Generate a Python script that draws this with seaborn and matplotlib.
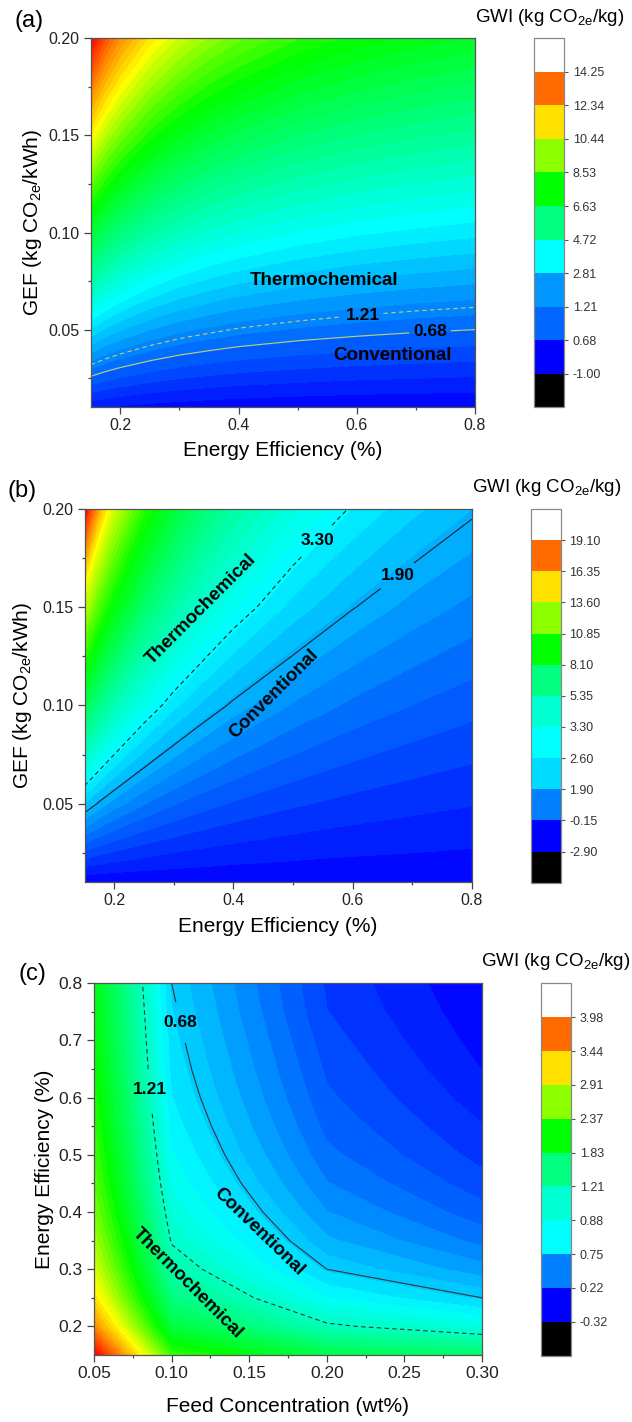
import numpy as np
import matplotlib
matplotlib.use('Agg')
import matplotlib.pyplot as plt
import seaborn as sns
from matplotlib.colors import LinearSegmentedColormap, ListedColormap, BoundaryNorm, Normalize
from matplotlib.cm import ScalarMappable
from matplotlib.ticker import FormatStrFormatter

#==============================================================================
# values (GWI in kg CO2e/kg)
#------------------------------------------------------------------------------
# (a) energy efficiency x GEF
eff_a = [0.15, 0.175, 0.20, 0.25, 0.30, 0.35, 0.40, 0.50, 0.60, 0.70, 0.80]
gef_a = [0.01, 0.05, 0.10, 0.15, 0.20]
gwi_a = [[-0.74, -0.82, -0.87, -0.95, -1.00, -1.04, -1.07, -1.11, -1.14, -1.15, -1.17],
         [ 2.82,  2.44,  2.16,  1.77,  1.50,  1.32,  1.17,  0.98,  0.85,  0.75,  0.68],
         [ 7.26,  6.51,  5.95,  5.16,  4.64,  4.26,  3.98,  3.59,  3.32,  3.14,  2.99],
         [11.71, 10.58,  9.74,  8.56,  7.77,  7.21,  6.78,  6.19,  5.80,  5.52,  5.31],
         [16.15, 14.65, 13.53, 11.95, 10.90, 10.15,  9.59,  8.80,  8.27,  7.90,  7.62]]
levels_a = [-1.00, 0.68, 1.21, 2.81, 4.72, 6.63, 8.53, 10.44, 12.34, 14.25]
lines_a = [0.68, 1.21]   # conventional, thermochemical

# (b) energy efficiency x GEF
eff_b = [0.15, 0.175, 0.20, 0.25, 0.30, 0.35, 0.40, 0.50, 0.60, 0.70, 0.80]
gef_b = [0.01, 0.05, 0.10, 0.15, 0.20]
gwi_b = [[-1.73, -1.72, -1.71, -1.69, -1.68, -1.67, -1.67, -1.66, -1.66, -1.65, -1.65],
         [ 2.37,  1.80,  1.37,  0.77,  0.37,  0.08, -0.13, -0.43, -0.63, -0.77, -0.88],
         [ 7.50,  6.19,  5.22,  3.85,  2.93,  2.28,  1.79,  1.11,  0.65,  0.33,  0.08],
         [12.62, 10.59,  9.06,  6.92,  5.50,  4.48,  3.72,  2.65,  1.93,  1.42,  1.04],
         [17.75, 14.98, 12.91, 10.00,  8.06,  6.68,  5.64,  4.18,  3.22,  2.52,  2.00]]
levels_b = [-2.90, -0.15, 1.90, 2.60, 3.30, 5.35, 8.10, 10.85, 13.60, 16.35, 19.10]
lines_b = [1.90, 3.30]

# (c) feed concentration x energy efficiency
conc_c = [0.05, 0.10, 0.20, 0.30]
eff_c = [0.15, 0.20, 0.25, 0.30, 0.35, 0.40, 0.45, 0.50, 0.55, 0.60, 0.65, 0.70, 0.75, 0.80]
gwi_c = [[4.50, 2.40, 1.82, 1.65],
         [3.77, 1.87, 1.25, 1.04],
         [3.32, 1.55, 0.91, 0.68],
         [3.03, 1.34, 0.68, 0.44],
         [2.82, 1.19, 0.52, 0.26],
         [2.66, 1.08, 0.40, 0.13],
         [2.53, 0.99, 0.30, 0.03],
         [2.44, 0.92, 0.22, -0.05],
         [2.36, 0.86, 0.16, -0.11],
         [2.29, 0.81, 0.11, -0.17],
         [2.23, 0.77, 0.07, -0.22],
         [2.18, 0.74, 0.03, -0.26],
         [2.14, 0.71, -0.01, -0.29],
         [2.10, 0.68, -0.03, -0.32]]
levels_c = [-0.32, 0.22, 0.75, 0.88, 1.21, 1.83, 2.37, 2.91, 3.44, 3.98]
lines_c = [0.68, 1.21]

#==============================================================================
# colours
BLUE, AZURE, SKY, CYAN = '#0000FF', '#0080FF', '#00DCFF', '#00FFFF'
AQUA, SPRING, GREEN, CHART = '#00FFD2', '#00FF80', '#00FF00', '#8CFF00'
GOLD, ORANGE = '#FFE100', '#FF6A00'
bands_a = [BLUE, '#0066FF', '#0096FF', CYAN, SPRING, GREEN, CHART, GOLD, ORANGE]
bands_b = [BLUE, AZURE, SKY, CYAN, AQUA, SPRING, GREEN, CHART, GOLD, ORANGE]
bands_c = [BLUE, AZURE, CYAN, AQUA, SPRING, GREEN, CHART, GOLD, ORANGE]

rainbow = ['#0000FF', '#00FFFF', '#00FF00', '#FFFF00', '#FF0000']
nodes_a = [-1.17, 3.4, 8.3, 11.6, 16.2]
nodes_b = [-1.73, 3.47, 9.42, 13.83, 17.8]
nodes_c = [-0.32, 0.90, 2.20, 3.20, 4.50]

#==============================================================================
sns.set_theme(style='ticks')
plt.rcParams['font.family'] = ['Liberation Sans', 'DejaVu Sans']
plt.rcParams['mathtext.fontset'] = 'custom'
plt.rcParams['mathtext.rm'] = 'Liberation Sans'
plt.rcParams['mathtext.it'] = 'Liberation Sans:italic'
plt.rcParams['axes.linewidth'] = 0.9
plt.rcParams['text.color'] = 'black'
plt.rcParams['axes.labelcolor'] = 'black'

W, H = 632, 1422
fig = plt.figure(figsize=(W / 100, H / 100), dpi=100)
fig.patch.set_facecolor('white')

def px_axes(x0, y0, x1, y1):
    return fig.add_axes([x0 / W, 1 - y1 / H, (x1 - x0) / W, (y1 - y0) / H])

GWI_LABEL = r'GWI (kg CO$_{\mathregular{2e}}$/kg)'
TICK_C = '#222222'
NOTE = dict(ha='center', va='center', fontsize=13.5, fontweight='bold',
            color='black', rotation_mode='anchor')

#++++++++++++++++++++++++++++++++++++++++++++++++++++++++++++++++++++++++++++++
def f_panel(ax, x, y, z, nodes, lines, line_color, label_pos, tick_size):
    X, Y = np.meshgrid(x, y)
    Z = np.array(z)
    vmin, vmax = nodes[0], nodes[-1]
    pos = [(n - vmin) / (vmax - vmin) for n in nodes]
    cmap = LinearSegmentedColormap.from_list('rb', list(zip(pos, rainbow)))
    fill_levels = np.linspace(Z.min(), Z.max(), 48)
    cf = ax.contourf(X, Y, Z, levels=fill_levels, cmap=cmap,
                     norm=Normalize(vmin, vmax), extend='both')
    cf.set_edgecolor('face')
    cf.set_linewidth(0.4)
    cs = ax.contour(X, Y, Z, levels=lines, colors=[line_color],
                    linewidths=0.8, linestyles=['solid', (0, (4, 3))])
    cl = ax.clabel(cs, lines, inline=True, fmt='%.2f', fontsize=12.5,
                   colors='black', manual=label_pos, inline_spacing=4)
    for t in cl:
        t.set_rotation(0)
        t.set_fontweight('bold')
    ax.set_xlim(x[0], x[-1])
    ax.set_ylim(y[0], y[-1])
    for s in ax.spines.values():
        s.set_color('#555555')
        s.set_linewidth(0.9)
    ax.tick_params(which='both', direction='out', top=False, right=False,
                   color='#444444', width=0.9, labelsize=tick_size,
                   labelcolor=TICK_C, pad=3)
    ax.tick_params(which='major', length=5)
    ax.tick_params(which='minor', length=2.5)
#++++++++++++++++++++++++++++++++++++++++++++++++++++++++++++++++++++++++++++++

def f_cbar(cax, levels, bands):
    cmap = ListedColormap(bands)
    cmap.set_under('black')
    cmap.set_over('white')
    norm = BoundaryNorm(levels, cmap.N)
    cb = fig.colorbar(ScalarMappable(norm=norm, cmap=cmap), cax=cax,
                      extend='both', extendrect=True, extendfrac=1 / len(bands),
                      spacing='uniform', ticks=levels, drawedges=False)
    cb.ax.set_yticklabels(['%.2f' % v for v in levels])
    cb.outline.set_edgecolor('#888888')
    cb.outline.set_linewidth(0.9)
    cb.ax.tick_params(length=3, width=0.8, color='#555555', labelsize=9,
                      labelcolor='#333333', pad=3)
    cb.ax.minorticks_off()
    return cb

#------------------------------------------------------------------------------
# (a)
ax_a = px_axes(90.7, 38.3, 475, 407.3)
f_panel(ax_a, eff_a, gef_a, gwi_a, nodes_a, lines_a, '#C8CC70',
        [(0.724, 0.0494), (0.609, 0.0607)], 11.5)
ax_a.set_xticks([0.2, 0.4, 0.6, 0.8])
ax_a.set_xticks([0.3, 0.5, 0.7], minor=True)
ax_a.set_yticks([0.05, 0.10, 0.15, 0.20])
ax_a.set_yticks([0.025, 0.075, 0.125, 0.175], minor=True)
ax_a.xaxis.set_major_formatter(FormatStrFormatter('%.1f'))
ax_a.yaxis.set_major_formatter(FormatStrFormatter('%.2f'))
ax_a.set_xlabel('Energy Efficiency (%)', fontsize=15, va='top')
ax_a.set_ylabel(r'GEF (kg CO$_{\mathregular{2e}}$/kWh)', fontsize=15)
ax_a.xaxis.set_label_coords(0.5, -0.091)
ax_a.yaxis.set_label_coords(-0.122, 0.5)
ax_a.text(0.544, 0.0752, 'Thermochemical', **NOTE)
ax_a.text(0.66, 0.0368, 'Conventional', **NOTE)
f_cbar(px_axes(534, 38.3, 564.3, 407.3), levels_a, bands_a)
fig.text(29 / W, 1 - 21 / H, '(a)', ha='center', va='center', fontsize=17)
fig.text(550 / W, 1 - 17 / H, GWI_LABEL, ha='center', va='center', fontsize=13.5)

#------------------------------------------------------------------------------
# (b)
ax_b = px_axes(84.5, 509, 471.8, 882.3)
f_panel(ax_b, eff_b, gef_b, gwi_b, nodes_b, lines_b, '#222222',
        [(0.665, 0.170), (0.538, 0.185)], 11.5)
ax_b.set_xticks([0.2, 0.4, 0.6, 0.8])
ax_b.set_xticks([0.3, 0.5, 0.7], minor=True)
ax_b.set_yticks([0.05, 0.10, 0.15, 0.20])
ax_b.set_yticks([0.025, 0.075, 0.125, 0.175], minor=True)
ax_b.xaxis.set_major_formatter(FormatStrFormatter('%.1f'))
ax_b.yaxis.set_major_formatter(FormatStrFormatter('%.2f'))
ax_b.set_xlabel('Energy Efficiency (%)', fontsize=15, va='top')
ax_b.set_ylabel(r'GEF (kg CO$_{\mathregular{2e}}$/kWh)', fontsize=15)
ax_b.xaxis.set_label_coords(0.5, -0.093)
ax_b.yaxis.set_label_coords(-0.130, 0.5)
ax_b.text(0.345, 0.149, 'Thermochemical', rotation=45, **NOTE)
ax_b.text(0.468, 0.106, 'Conventional', rotation=45, **NOTE)
f_cbar(px_axes(531, 509, 561, 882.7), levels_b, bands_b)
fig.text(22 / W, 1 - 491 / H, '(b)', ha='center', va='center', fontsize=17)
fig.text(547 / W, 1 - 488 / H, GWI_LABEL, ha='center', va='center', fontsize=13.5)

#------------------------------------------------------------------------------
# (c)
ax_c = px_axes(94, 983.3, 482, 1355)
f_panel(ax_c, conc_c, eff_c, gwi_c, nodes_c, lines_c, '#333333',
        [(0.1037, 0.730), (0.0881, 0.614)], 12.5)
ax_c.set_xticks([0.05, 0.10, 0.15, 0.20, 0.25, 0.30])
ax_c.set_xticks([0.075, 0.125, 0.175, 0.225, 0.275], minor=True)
ax_c.set_yticks([0.2, 0.3, 0.4, 0.5, 0.6, 0.7, 0.8])
ax_c.set_yticks([0.25, 0.35, 0.45, 0.55, 0.65, 0.75], minor=True)
ax_c.xaxis.set_major_formatter(FormatStrFormatter('%.2f'))
ax_c.yaxis.set_major_formatter(FormatStrFormatter('%.1f'))
ax_c.set_xlabel('Feed Concentration (wt%)', fontsize=15, va='top')
ax_c.set_ylabel('Energy Efficiency (%)', fontsize=15)
ax_c.xaxis.set_label_coords(0.5, -0.113)
ax_c.yaxis.set_label_coords(-0.103, 0.5)
ax_c.text(0.156, 0.366, 'Conventional', rotation=-44, **NOTE)
ax_c.text(0.110, 0.276, 'Thermochemical', rotation=-45, **NOTE)
f_cbar(px_axes(541, 983.3, 571.4, 1355.7), levels_c, bands_c)
fig.text(32 / W, 1 - 974 / H, '(c)', ha='center', va='center', fontsize=17)
fig.text(556 / W, 1 - 962 / H, GWI_LABEL, ha='center', va='center', fontsize=13.5)

plt.savefig('out.png', dpi=100)
